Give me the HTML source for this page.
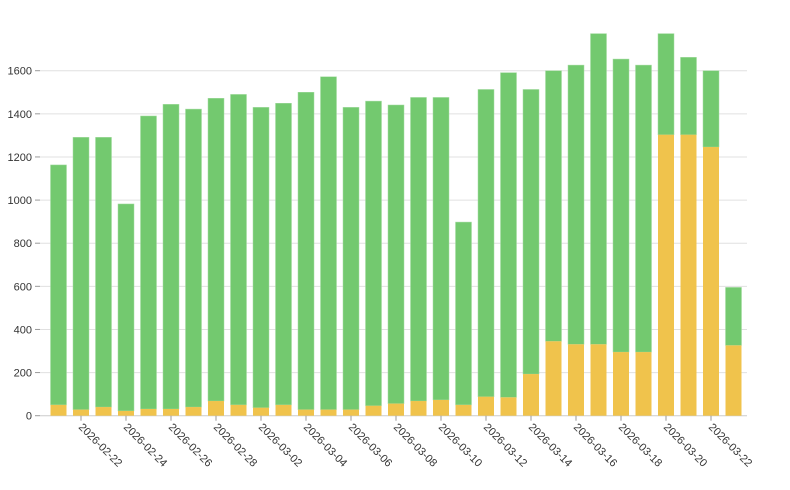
<!DOCTYPE html>
<html><head><meta charset="utf-8"><style>
html,body{margin:0;padding:0;background:#fff;}
svg{display:block;font-family:"Liberation Sans",sans-serif;}
</style></head><body>
<svg id="c" width="790" height="490" xmlns="http://www.w3.org/2000/svg"></svg>
<script>
const tot=[1163,1291,1291,982,1390,1444,1422,1472,1490,1430,1449,1500,1572,1430,1459,1441,1476,1476,898,1513,1591,1513,1600,1626,1772,1654,1626,1772,1662,1600,595];
const yel=[50,28,40,22,31,31,40,68,50,37,50,28,28,28,46,56,68,73,50,88,85,193,345,331,331,295,295,1303,1303,1246,326];
const y0=415.7,k=345/1600;
let s='';
for(let v=0;v<=1600;v+=200){const y=y0-v*k;
 s+=`<line x1="40" x2="747" y1="${y}" y2="${y}" stroke="${v?'#e0e0e0':'#ccc'}" stroke-width="1"/>`;
 s+=`<line x1="35" x2="40" y1="${y}" y2="${y}" stroke="#999"/>`;
 s+=`<text x="32" y="${y+4}" text-anchor="end" font-size="11" fill="#333">${v}</text>`;}
for(let i=0;i<31;i++){const cx=58.5+22.5*i,x=cx-8,w=16;
 const ht=tot[i]*k,hy=yel[i]*k;
 s+=`<rect x="${x}" y="${y0-ht}" width="${w}" height="${ht-hy}" fill="#73c96f" stroke="#a6dca3" stroke-width="0.5"/>`;
 s+=`<rect x="${x}" y="${y0-hy}" width="${w}" height="${hy}" fill="#f0c34c"/>`;
 if(i%2==1){const d=new Date(Date.UTC(2026,1,21+i));
  const lab=d.toISOString().slice(0,10);
  s+=`<line x1="${cx}" x2="${cx}" y1="${y0}" y2="${y0+5}" stroke="#999"/>`;
  s+=`<text transform="translate(${cx-3},${y0+12}) rotate(45)" font-size="11" fill="#333">${lab}</text>`;}
}
document.getElementById('c').innerHTML=s;
</script>
</body></html>
